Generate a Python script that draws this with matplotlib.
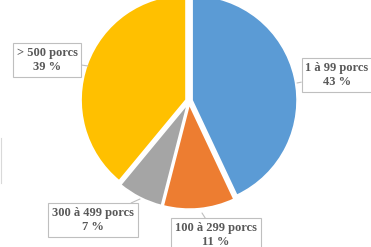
import matplotlib
matplotlib.use("Agg")
import matplotlib.pyplot as plt

categories = ["1 à 99 porcs", "100 à 299 porcs", "300 à 499 porcs", "> 500 porcs"]
shares = [43, 11, 7, 39]
colors = ["#5B9BD5", "#ED7D31", "#A5A5A5", "#FFC000"]

# pixel geometry of the reference picture (371 x 247)
W, H = 371, 247
CX, CY, R = 189, 101, 105


def px(x, y):
    return (x - CX) / R, (CY - y) / R


# label text centre and tip of the callout, in pixels
label_pos = [(337, 75), (216, 235), (93, 220), (47, 60)]
tip_pos = [(297, 83), (202, 213), (140, 199), (88, 66)]

fig = plt.figure(figsize=(W / 100, H / 100), dpi=100)
ax = fig.add_axes([0, 0, 1, 1])

ax.pie(shares, colors=colors, startangle=90, counterclock=False,
       explode=[0.03] * len(shares),
       wedgeprops=dict(edgecolor="white", linewidth=1.2))

for cat, v, lp, tp in zip(categories, shares, label_pos, tip_pos):
    ax.annotate(f"{cat}\n{v} %", xy=px(*tp), xytext=px(*lp),
                ha="center", va="center", fontsize=9, fontweight="bold",
                family="Liberation Serif", color="#595959", linespacing=1.2,
                bbox=dict(boxstyle="square,pad=0.3", fc="white",
                          ec="#BFBFBF", lw=0.8),
                arrowprops=dict(arrowstyle="-", color="#BFBFBF", lw=0.8,
                                shrinkA=0, shrinkB=0))

# partially visible frame at the far left
ax.plot(*zip(px(0.8, 138), px(0.8, 183)), color="#D9D9D9", lw=0.8)

ax.set_xlim(-CX / R, (W - CX) / R)
ax.set_ylim(-(H - CY) / R, CY / R)
ax.set_aspect("auto")
ax.axis("off")

fig.savefig("out.png", dpi=100)
